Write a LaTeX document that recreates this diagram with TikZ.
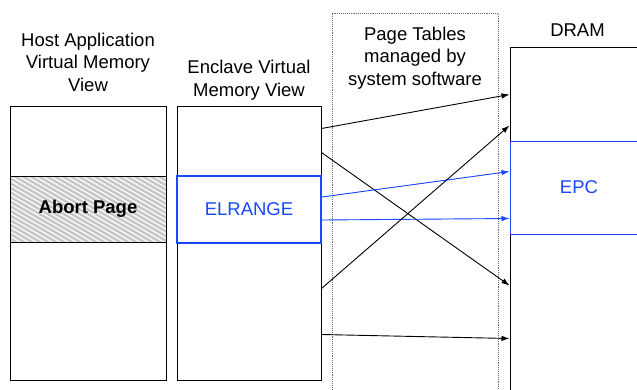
\documentclass[tikz,border=0pt]{standalone}
\usepackage{fontspec}
\setmainfont{Liberation Sans}
\usetikzlibrary{arrows.meta, positioning}
\definecolor{enclblue}{RGB}{25,72,250}
\definecolor{hatchgray}{RGB}{200,200,200}
\definecolor{dotgray}{RGB}{110,110,110}

\begin{document}
\begin{tikzpicture}[
    x=1pt, y=-1pt,
    every node/.style={font=\fontsize{18.5}{22.5}\selectfont},
    membox/.style={
      rectangle, draw, line width=1pt, inner sep=0pt,
      minimum height=274pt, align=center
    },
    region/.style={rectangle, draw, line width=1pt, inner sep=0pt,
      minimum height=66pt},
    blueregion/.style={region, draw=enclblue, text=enclblue, line width=2pt},
    hatched/.style={region, fill=hatchgray,
      path picture={
        \foreach \i in {-160,-152,...,170}
          \draw[white, line width=1.2pt]
            ([xshift=\i pt]path picture bounding box.north west) -- ++(140pt,-81pt);
      }},
    title/.style={align=center, inner sep=0pt},
    arrow/.style={-{Latex[length=8pt,width=5.5pt]}, line width=0.9pt},
    bluearrow/.style={arrow, draw=enclblue, fill=enclblue}
  ]
    \useasboundingbox (0,0) rectangle (637,389);
    \clip (0,0) rectangle (637,389);

    % memory views
    \node[membox, minimum width=156pt] (host) at (88,243) {};
    \node[hatched, minimum width=156pt] (abort) at (88,209) {\bfseries Abort Page};
    \node[membox, minimum width=144pt] (encl) at (249,243) {};
    \node[blueregion, minimum width=144pt, minimum height=67pt] (elrange) at (249,209.5) {ELRANGE};

    % page tables and DRAM
    \node[rectangle, draw=dotgray, densely dotted, line width=0.9pt,
      minimum width=166pt, minimum height=400pt] (pt) at (415,213) {};
    \node[rectangle, draw, line width=1pt, minimum width=200pt,
      minimum height=380pt] (dram) at (610,237) {};
    \node[rectangle, draw=enclblue, line width=1pt,
      minimum width=200pt, minimum height=93pt] (epc) at (610,187.5) {};
    \node[text=enclblue] (epclbl) at (579,187.5) {EPC};

    % titles
    \node[title, above=14pt of host] (hostlbl) {Host Application\\Virtual Memory\\View};
    \node[title, above=5pt of encl] (encllbl) {Enclave Virtual\\Memory View};
    \node[title] (ptlbl) at (415,58) {Page Tables\\managed by\\system software};
    \node[title, above=10pt of dram.north west, anchor=south, xshift=68pt] (dramlbl) {DRAM};

    % mappings
    \draw[arrow] ([yshift=-23pt]encl.north east) -- ([yshift=-48pt]dram.north west);
    \draw[arrow] ([yshift=-47pt]encl.north east) -- ([yshift=-239pt]dram.north west);
    \draw[bluearrow] ([yshift=-22pt]elrange.north east) -- ([yshift=-31pt]epc.north west);
    \draw[bluearrow] ([yshift=-45pt]elrange.north east) -- ([yshift=-78pt]epc.north west);
    \draw[arrow] ([yshift=-183pt]encl.north east) -- ([yshift=-79pt]dram.north west);
    \draw[arrow] ([yshift=-229pt]encl.north east) -- ([yshift=-292pt]dram.north west);
  \end{tikzpicture}
\end{document}
